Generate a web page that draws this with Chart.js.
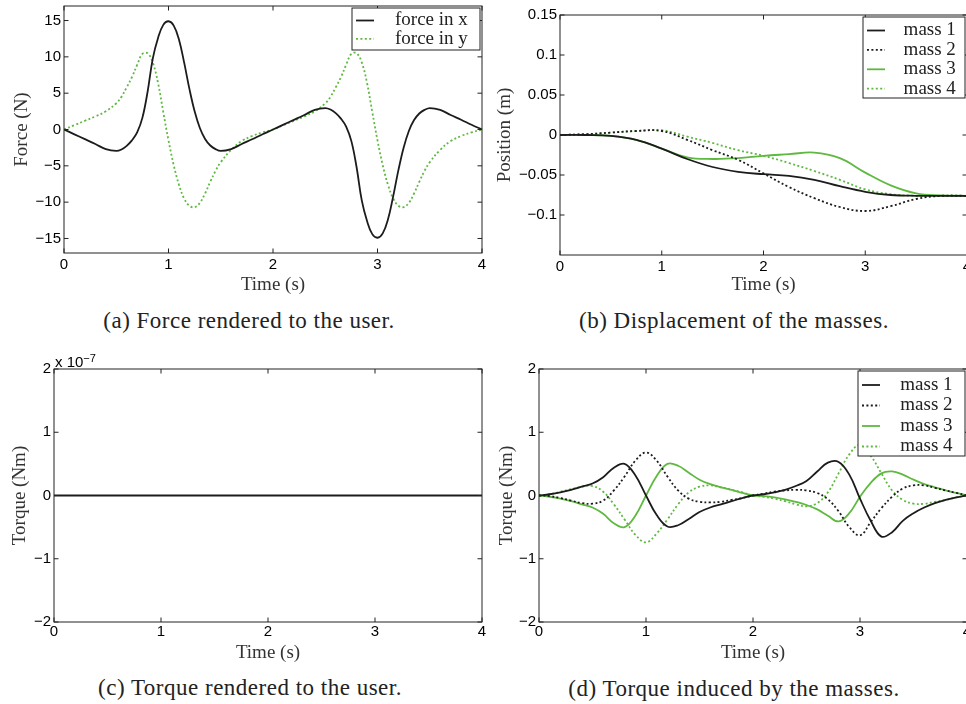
<!DOCTYPE html>
<html>
<head>
<meta charset="utf-8">
<script src="https://cdn.jsdelivr.net/npm/chart.js@4.4.1/dist/chart.umd.min.js"></script>
<style>
  body { margin: 0; width: 966px; height: 704px; overflow: hidden; background: #fff; position: relative; }
  canvas { position: absolute; }
  .cap { position: absolute; font-family: "Liberation Serif", serif; font-size: 23px; letter-spacing: 0.5px;
         color: #222; white-space: nowrap; transform: translate(-50%, -50%); }
  #expo { position: absolute; left: 55px; top: 354px; font-family: "Liberation Sans", sans-serif; font-size: 15px;
          line-height: 15px; color: #000; z-index: 2; }
  #expo sup { font-size: 11px; position: relative; top: -3px; vertical-align: top; }
</style>
</head>
<body>
<canvas id="force" width="490" height="300" style="left:0;top:0"></canvas>
<canvas id="position" width="490" height="300" style="left:490px;top:0"></canvas>
<canvas id="userTorque" width="490" height="315" style="left:0;top:355px"></canvas>
<canvas id="massTorque" width="490" height="315" style="left:490px;top:355px"></canvas>
<div id="expo">x 10<sup>−7</sup></div>
<div class="cap" style="left:249px;top:321px">(a) Force rendered to the user.</div>
<div class="cap" style="left:734px;top:321px">(b) Displacement of the masses.</div>
<div class="cap" style="left:250px;top:688px">(c) Torque rendered to the user.</div>
<div class="cap" style="left:734px;top:689px">(d) Torque induced by the masses.</div>
<script>
// ---- data ----
const timeTicks = [0,1,2,3,4];

// (a) force in N, denser samples around the steep pulses
const forceTime = [0,0.1,0.2,0.3,0.4,0.5,0.55,0.6,0.65,0.7,0.75,0.8,0.85,0.9,0.95,1,1.05,1.1,1.15,1.2,1.25,1.3,1.35,1.4,1.45,1.5,
                   1.6,1.7,1.8,1.9,2,2.1,2.2,2.3,2.4,2.5,2.55,2.6,2.65,2.7,2.75,2.8,2.85,2.9,2.95,3,3.05,3.1,3.15,3.2,3.25,3.3,3.35,3.4,3.45,3.5,
                   3.6,3.7,3.8,3.9,4];
const forceX = [0,-0.67,-1.33,-2.0,-2.7,-2.95,-2.75,-2.25,-1.5,-0.4,1.6,5.2,9.8,12.6,14.4,14.9,14.3,12.4,9.2,5.6,2.5,0.2,-1.3,-2.2,-2.7,-2.95,
                -2.7,-2.0,-1.35,-0.65,0,0.67,1.33,2.0,2.7,2.95,2.75,2.25,1.5,0.4,-1.6,-5.2,-9.8,-12.6,-14.4,-14.9,-14.3,-12.4,-9.2,-5.6,-2.5,-0.2,1.3,2.2,2.7,2.95,
                2.7,2.0,1.35,0.65,0];
const forceY = [0,0.6,1.2,1.8,2.5,3.6,4.5,5.8,7.2,8.9,10.4,10.5,9.2,6.4,2.4,-1.5,-4.9,-7.6,-9.5,-10.5,-10.7,-10.1,-8.8,-7.2,-5.7,-4.5,
                -2.8,-1.6,-0.9,-0.4,0,0.6,1.2,1.8,2.5,3.6,4.5,5.8,7.2,8.9,10.4,10.5,9.2,6.4,2.4,-1.5,-4.9,-7.6,-9.5,-10.5,-10.7,-10.1,-8.8,-7.2,-5.7,-4.5,
                -2.8,-1.6,-0.9,-0.4,0];
const forceTicks = [-15,-10,-5,0,5,10,15];

// (b) position in m
const posTime = [0,0.25,0.5,0.75,1,1.25,1.5,1.75,2,2.25,2.5,2.75,3,3.25,3.5,3.75,4];
const pos1 = [0,0,-0.001,-0.006,-0.017,-0.030,-0.040,-0.046,-0.049,-0.051,-0.056,-0.064,-0.071,-0.075,-0.076,-0.076,-0.076];
const pos2 = [0,0.001,0.003,0.005,0.005,-0.006,-0.019,-0.031,-0.048,-0.065,-0.079,-0.090,-0.095,-0.089,-0.080,-0.076,-0.076];
const pos3 = [0,0,-0.001,-0.006,-0.017,-0.028,-0.030,-0.029,-0.026,-0.024,-0.022,-0.029,-0.047,-0.063,-0.073,-0.0755,-0.076];
const pos4 = [0,0.001,0.003,0.005,0.006,-0.002,-0.010,-0.019,-0.026,-0.035,-0.045,-0.056,-0.068,-0.074,-0.076,-0.076,-0.076];
const posTicks = [-0.1,-0.05,0,0.05,0.1,0.15];

// (c) torque rendered to the user, Nm
const userTorqueTime = [0,1,2,3,4];
const userTorqueVals = [0,0,0,0,0];
const userTorqueTicks = [-2e-7,-1e-7,0,1e-7,2e-7];

// (d) torque induced by the masses, Nm
const time = [0,0.1,0.2,0.3,0.4,0.5,0.6,0.7,0.8,0.9,1,1.1,1.2,1.3,1.4,1.5,1.6,1.7,1.8,1.9,2,
              2.1,2.2,2.3,2.4,2.5,2.6,2.7,2.8,2.9,3,3.1,3.2,3.3,3.4,3.5,3.6,3.7,3.8,3.9,4];
const torque1 = [0,0.02,0.05,0.09,0.14,0.19,0.29,0.44,0.50,0.32,0,-0.31,-0.49,-0.47,-0.37,-0.26,-0.19,-0.14,-0.09,-0.04,0,
                 0.02,0.05,0.09,0.15,0.23,0.38,0.52,0.53,0.33,-0.05,-0.40,-0.65,-0.58,-0.40,-0.28,-0.19,-0.12,-0.07,-0.03,0];
const torque2 = [0,-0.01,-0.04,-0.08,-0.12,-0.13,-0.08,0.08,0.30,0.55,0.68,0.55,0.30,0.08,-0.05,-0.10,-0.11,-0.10,-0.07,-0.04,0,
                 0.03,0.06,0.08,0.09,0.08,0.04,-0.06,-0.25,-0.50,-0.63,-0.42,-0.20,-0.02,0.11,0.16,0.16,0.12,0.08,0.04,0];
const torque3 = [0,-0.02,-0.05,-0.09,-0.14,-0.19,-0.29,-0.44,-0.50,-0.32,0,0.31,0.50,0.47,0.36,0.25,0.18,0.13,0.09,0.04,0,
                 -0.01,-0.03,-0.06,-0.10,-0.15,-0.22,-0.32,-0.41,-0.28,-0.02,0.20,0.35,0.38,0.33,0.25,0.18,0.13,0.08,0.04,0];
const torque4 = [0,0.02,0.06,0.10,0.14,0.15,0.06,-0.14,-0.38,-0.62,-0.74,-0.60,-0.38,-0.14,0.05,0.14,0.16,0.13,0.09,0.05,0,
                 -0.02,-0.05,-0.09,-0.14,-0.17,-0.12,0.05,0.35,0.65,0.80,0.63,0.35,0.08,-0.07,-0.13,-0.13,-0.10,-0.07,-0.03,0];
const torqueTicks = [-2,-1,0,1,2];

// ---- styling ----
const BLACK = "rgb(28,28,28)";
const GREEN = "rgb(95,185,65)";
const SANS = "Liberation Sans";
const SERIF = "Liberation Serif";

const pts = (ts, vs) => ts.map((t, i) => ({ x: t, y: vs[i] }));
const minus = (s) => String(s).replace("-", "\u2212");

const line = (label, ts, vs, color, dotted) => ({
  label: label,
  data: pts(ts, vs),
  borderColor: color,
  borderWidth: 1.8,
  borderDash: dotted ? [2, 2.4] : [],
  pointRadius: 0,
  fill: false,
  tension: 0.4,
});

// matlab-like box with inward ticks on all sides
const framePlugin = {
  id: "frame",
  afterDatasetsDraw(chart) {
    const { ctx, chartArea: a, scales } = chart;
    ctx.save();
    ctx.strokeStyle = "#222";
    ctx.lineWidth = 1;
    ctx.strokeRect(a.left, a.top, a.right - a.left, a.bottom - a.top);
    const tl = 4.5;
    ctx.beginPath();
    scales.x.ticks.forEach((t) => {
      const px = scales.x.getPixelForValue(t.value);
      ctx.moveTo(px, a.bottom); ctx.lineTo(px, a.bottom - tl);
      ctx.moveTo(px, a.top); ctx.lineTo(px, a.top + tl);
    });
    scales.y.ticks.forEach((t) => {
      const py = scales.y.getPixelForValue(t.value);
      ctx.moveTo(a.left, py); ctx.lineTo(a.left + tl, py);
      ctx.moveTo(a.right, py); ctx.lineTo(a.right - tl, py);
    });
    ctx.stroke();
    ctx.restore();
  },
};

// legend box drawn inside the top-right corner of the plot
const boxLegend = {
  id: "boxLegend",
  afterDraw(chart, args, o) {
    if (!o.show) return;
    const { ctx, chartArea: a } = chart;
    const x0 = a.right - o.inset - o.width;
    const y0 = a.top + o.inset;
    ctx.save();
    ctx.fillStyle = "#fff";
    ctx.fillRect(x0, y0, o.width, o.height);
    ctx.strokeStyle = "#222";
    ctx.lineWidth = 1;
    ctx.strokeRect(x0, y0, o.width, o.height);
    chart.data.datasets.forEach((ds, i) => {
      const y = y0 + o.firstY + i * o.rowH;
      ctx.beginPath();
      ctx.strokeStyle = ds.borderColor;
      ctx.lineWidth = ds.borderWidth;
      ctx.setLineDash(ds.borderDash);
      ctx.moveTo(x0 + 4, y);
      ctx.lineTo(x0 + 22, y);
      ctx.stroke();
      ctx.setLineDash([]);
      ctx.fillStyle = "#222";
      ctx.font = "19px " + SERIF;
      ctx.textBaseline = "middle";
      ctx.textAlign = "left";
      ctx.fillText(ds.label, x0 + o.textX, y);
    });
    ctx.restore();
  },
};

function makeChart(id, area, cfg) {
  const cv = document.getElementById(id);
  const W = cv.width, H = cv.height;
  return new Chart(cv, {
    type: "line",
    data: { datasets: cfg.datasets },
    options: {
      responsive: false,
      animation: false,
      layout: { padding: { left: 0, top: area.t, right: W - area.r, bottom: 0 } },
      plugins: {
        legend: { display: false },
        tooltip: { enabled: false },
        boxLegend: cfg.legend || { show: false },
      },
      scales: {
        x: {
          type: "linear", min: 0, max: 4,
          grid: { display: false, drawTicks: false },
          border: { display: false },
          afterBuildTicks: (s) => { s.ticks = timeTicks.map((v) => ({ value: v })); },
          afterFit: (s) => { s.height = H - area.b; s.paddingLeft = 0; s.paddingRight = 0; },
          ticks: { font: { family: SANS, size: 15 }, color: "#000", padding: cfg.xTickPad, maxRotation: 0 },
          title: { display: true, text: "Time (s)", font: { family: SERIF, size: 19 }, color: "#333",
                   padding: { top: 0, bottom: cfg.xTitlePad } },
        },
        y: {
          type: "linear", min: cfg.yMin, max: cfg.yMax,
          grid: { display: false, drawTicks: false },
          border: { display: false },
          afterBuildTicks: (s) => { s.ticks = cfg.yTicks.map((v) => ({ value: v })); },
          afterFit: (s) => { s.width = area.l; s.paddingTop = 0; s.paddingBottom = 0; },
          ticks: { font: { family: SANS, size: 15 }, color: "#000", padding: 3, callback: cfg.fmt },
          title: { display: true, text: cfg.yTitle, font: { family: SERIF, size: 19 }, color: "#333",
                   padding: { top: cfg.yTitlePad, bottom: 0 } },
        },
      },
    },
    plugins: [framePlugin, boxLegend],
  });
}

makeChart("force", { l: 64, t: 6, r: 482, b: 253 }, {
  datasets: [
    line("force in x", forceTime, forceX, BLACK, false),
    line("force in y", forceTime, forceY, GREEN, true),
  ],
  yMin: -17, yMax: 17, yTicks: forceTicks, yTitle: "Force (N)",
  fmt: (v) => minus(v), xTickPad: 3, xTitlePad: 3.4, yTitlePad: 10.3,
  legend: { show: true, inset: 2, width: 128, height: 42, rowH: 18.3, firstY: 12.5, textX: 43 },
});

makeChart("position", { l: 70, t: 15, r: 477, b: 255 }, {
  datasets: [
    line("mass 1", posTime, pos1, BLACK, false),
    line("mass 2", posTime, pos2, BLACK, true),
    line("mass 3", posTime, pos3, GREEN, false),
    line("mass 4", posTime, pos4, GREEN, true),
  ],
  yMin: -0.15, yMax: 0.15, yTicks: posTicks, yTitle: "Position (m)",
  fmt: (v) => minus(+v.toFixed(2)), xTickPad: 3, xTitlePad: 3.6, yTitlePad: 3.6,
  legend: { show: true, inset: 2, width: 102, height: 81, rowH: 19.4, firstY: 13.5, textX: 40.6 },
});

makeChart("userTorque", { l: 54, t: 14, r: 482, b: 267 }, {
  datasets: [line("torque", userTorqueTime, userTorqueVals, BLACK, false)],
  yMin: -2e-7, yMax: 2e-7, yTicks: userTorqueTicks, yTitle: "Torque (Nm)",
  fmt: (v) => minus(Math.round(v * 1e7)), xTickPad: 1, xTitlePad: 5.3, yTitlePad: 8.6,
});

makeChart("massTorque", { l: 49, t: 14, r: 477, b: 267 }, {
  datasets: [
    line("mass 1", time, torque1, BLACK, false),
    line("mass 2", time, torque2, BLACK, true),
    line("mass 3", time, torque3, GREEN, false),
    line("mass 4", time, torque4, GREEN, true),
  ],
  yMin: -2, yMax: 2, yTicks: torqueTicks, yTitle: "Torque (Nm)",
  fmt: (v) => minus(v), xTickPad: 1, xTitlePad: 5.3, yTitlePad: 5.3,
  legend: { show: true, inset: 2, width: 107, height: 85, rowH: 20.5, firstY: 14, textX: 42.3 },
});
</script>
</body>
</html>
